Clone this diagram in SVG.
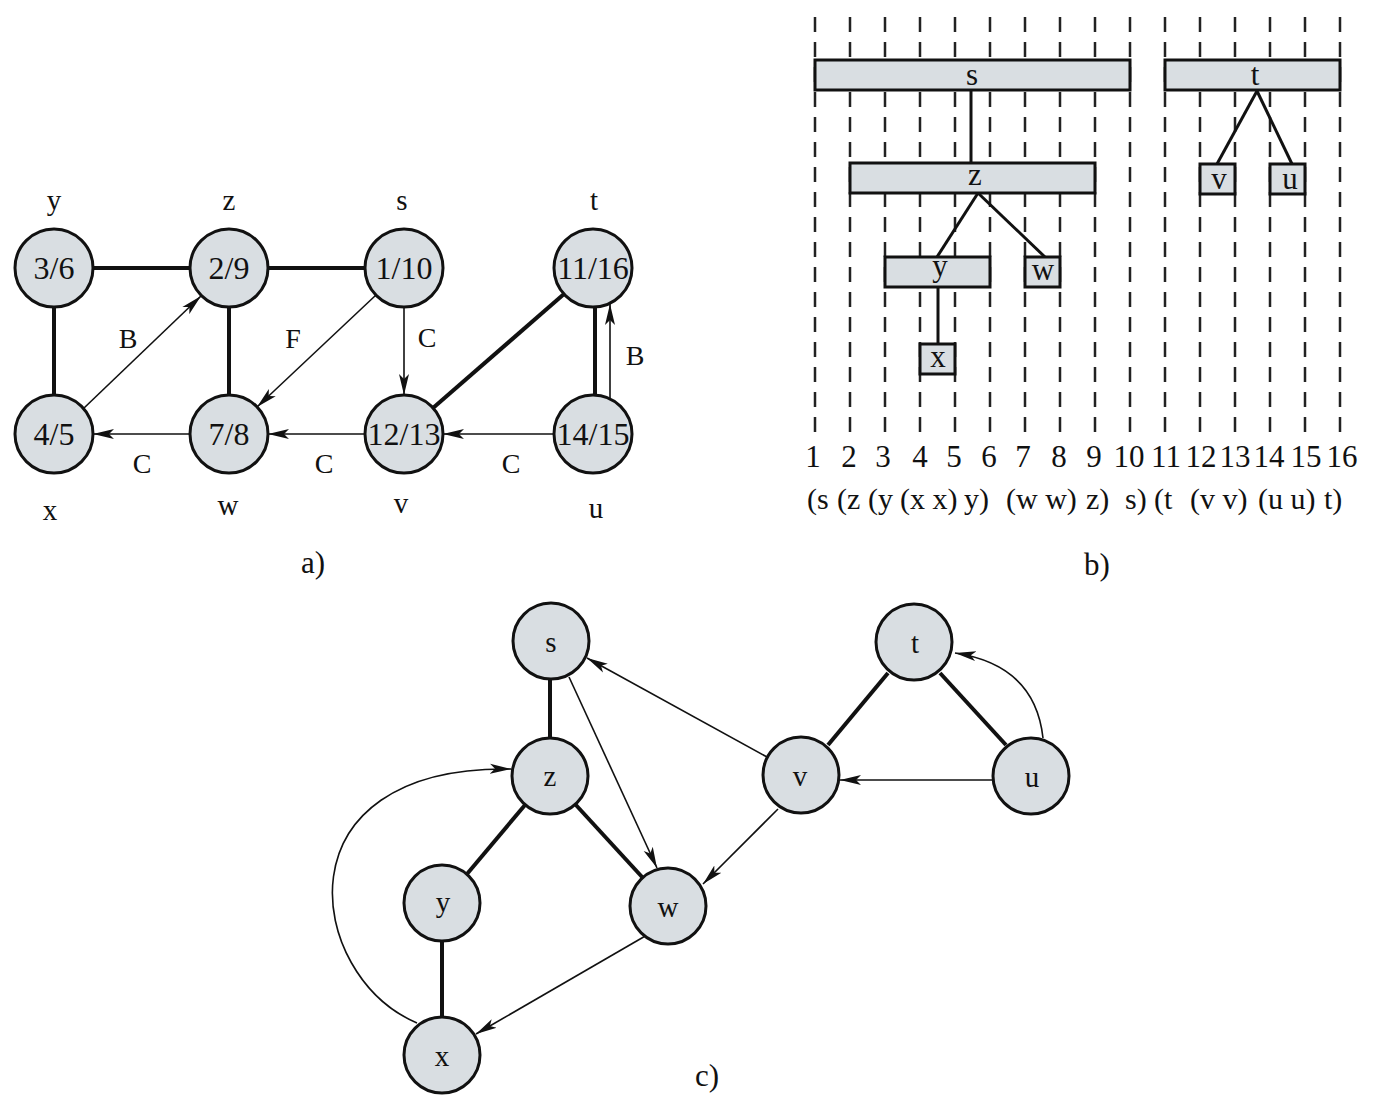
<svg xmlns="http://www.w3.org/2000/svg" width="1381" height="1095" viewBox="0 0 1381 1095">
<style>
text{font-family:"Liberation Serif","Times New Roman",serif;fill:#111;text-anchor:middle}
.n circle{fill:#d9dee2;stroke:#111;stroke-width:3}
.n text{font-size:32px}
.n text.lbl{font-size:29px}
.el{font-size:28px}
.thick{stroke:#111;stroke-width:4;fill:none}
.thin{stroke:#111;stroke-width:1.6;fill:none}
.arr{marker-end:url(#ah)}
.dash{stroke:#222;stroke-width:2.5;stroke-dasharray:15 10}
.bar rect{fill:#d9dee2;stroke:#111;stroke-width:3}
.bar text{font-size:31px}
.tl{font-size:31px}
.pr{font-size:30px;text-anchor:start}
.tree{stroke:#111;stroke-width:3;fill:none}
</style>
<defs>
<marker id="ah" viewBox="0 -6 22 12" refX="21" refY="0" markerWidth="22" markerHeight="12" markerUnits="userSpaceOnUse" orient="auto">
<path d="M0,-5 L21,0 L0,5 L5,0 z" fill="#111"/>
</marker>
</defs>
<rect width="1381" height="1095" fill="#fff"/>

<!-- ===== Part a ===== -->
<g id="a-connectors">
<path class="thick" d="M93,268 L190,268"/>
<path class="thick" d="M268,268 L365,268"/>
<path class="thick" d="M54,307 L54,395"/>
<path class="thick" d="M229,307 L229,395"/>
<path class="thin arr" d="M84,408 L201,296"/>
<path class="thin arr" d="M376,295 L257,407"/>
<path class="thin arr" d="M404,307 L404,395"/>
<path class="thick" d="M433,408 L564,294"/>
<path class="thick" d="M595,307 L595,395"/>
<path class="thin arr" d="M610,399 L610,304"/>
<path class="thin arr" d="M554,434 L443,434"/>
<path class="thin arr" d="M365,434 L268,434"/>
<path class="thin arr" d="M190,434 L93,434"/>
<text class="el" x="128" y="348">B</text>
<text class="el" x="293" y="348">F</text>
<text class="el" x="427" y="347">C</text>
<text class="el" x="635" y="365">B</text>
<text class="el" x="142" y="473">C</text>
<text class="el" x="324" y="473">C</text>
<text class="el" x="511" y="473">C</text>
</g>
<g id="a-y" class="n"><circle cx="54" cy="268" r="39"/><text x="54" y="279">3/6</text><text class="lbl" x="54" y="210">y</text></g>
<g id="a-z" class="n"><circle cx="229" cy="268" r="39"/><text x="229" y="279">2/9</text><text class="lbl" x="229" y="210">z</text></g>
<g id="a-s" class="n"><circle cx="404" cy="268" r="39"/><text x="404" y="279">1/10</text><text class="lbl" x="402" y="210">s</text></g>
<g id="a-t" class="n"><circle cx="593" cy="268" r="39"/><text x="593" y="279">11/16</text><text class="lbl" x="594" y="210">t</text></g>
<g id="a-x" class="n"><circle cx="54" cy="434" r="39"/><text x="54" y="445">4/5</text><text class="lbl" x="50" y="520">x</text></g>
<g id="a-w" class="n"><circle cx="229" cy="434" r="39"/><text x="229" y="445">7/8</text><text class="lbl" x="228" y="515">w</text></g>
<g id="a-v" class="n"><circle cx="404" cy="434" r="39"/><text x="404" y="445">12/13</text><text class="lbl" x="401" y="513">v</text></g>
<g id="a-u" class="n"><circle cx="593" cy="434" r="39"/><text x="593" y="445">14/15</text><text class="lbl" x="596" y="518">u</text></g>
<text class="tl" x="313" y="573">a)</text>

<!-- ===== Part b ===== -->
<g id="b-grid">
<line class="dash" x1="815" y1="17" x2="815" y2="432"/>
<line class="dash" x1="850" y1="17" x2="850" y2="432"/>
<line class="dash" x1="885" y1="17" x2="885" y2="432"/>
<line class="dash" x1="920" y1="17" x2="920" y2="432"/>
<line class="dash" x1="955" y1="17" x2="955" y2="432"/>
<line class="dash" x1="990" y1="17" x2="990" y2="432"/>
<line class="dash" x1="1025" y1="17" x2="1025" y2="432"/>
<line class="dash" x1="1060" y1="17" x2="1060" y2="432"/>
<line class="dash" x1="1095" y1="17" x2="1095" y2="432"/>
<line class="dash" x1="1130" y1="17" x2="1130" y2="432"/>
<line class="dash" x1="1165" y1="17" x2="1165" y2="432"/>
<line class="dash" x1="1200" y1="17" x2="1200" y2="432"/>
<line class="dash" x1="1235" y1="17" x2="1235" y2="432"/>
<line class="dash" x1="1270" y1="17" x2="1270" y2="432"/>
<line class="dash" x1="1305" y1="17" x2="1305" y2="432"/>
<line class="dash" x1="1340" y1="17" x2="1340" y2="432"/>
</g>
<g id="b-connectors">
<path class="tree" d="M971,90 L971,163"/>
<path class="tree" d="M978,193 L937,257"/>
<path class="tree" d="M978,193 L1045,257"/>
<path class="tree" d="M938,287 L938,344"/>
<path class="tree" d="M1257,91 L1217,164"/>
<path class="tree" d="M1257,91 L1292,164"/>
</g>
<g id="b-s" class="bar"><rect x="815" y="60" width="315" height="30"/><text x="972" y="85">s</text></g>
<g id="b-t" class="bar"><rect x="1165" y="60" width="175" height="30"/><text x="1255" y="85">t</text></g>
<g id="b-z" class="bar"><rect x="850" y="163" width="245" height="30"/><text x="975" y="185">z</text></g>
<g id="b-v" class="bar"><rect x="1200" y="164" width="35" height="30"/><text x="1219" y="189">v</text></g>
<g id="b-u" class="bar"><rect x="1270" y="164" width="35" height="30"/><text x="1290" y="189">u</text></g>
<g id="b-y" class="bar"><rect x="885" y="257" width="105" height="30"/><text x="940" y="276">y</text></g>
<g id="b-w" class="bar"><rect x="1025" y="257" width="35" height="30"/><text x="1043" y="280">w</text></g>
<g id="b-x" class="bar"><rect x="920" y="344" width="35" height="30"/><text x="938" y="367">x</text></g>
<g id="b-numbers" class="tl">
<text x="813" y="467">1</text><text x="849" y="467">2</text><text x="883" y="467">3</text><text x="920" y="467">4</text>
<text x="954" y="467">5</text><text x="989" y="467">6</text><text x="1023" y="467">7</text><text x="1059" y="467">8</text>
<text x="1094" y="467">9</text><text x="1129" y="467">10</text><text x="1166" y="467">11</text><text x="1201" y="467">12</text>
<text x="1235" y="467">13</text><text x="1269" y="467">14</text><text x="1306" y="467">15</text><text x="1342" y="467">16</text>
</g>
<g id="b-parens">
<text class="pr" x="807" y="509">(s</text>
<text class="pr" x="837" y="509">(z</text>
<text class="pr" x="868" y="509">(y</text>
<text class="pr" x="900" y="509">(x x)</text>
<text class="pr" x="964" y="509">y)</text>
<text class="pr" x="1006" y="509">(w w)</text>
<text class="pr" x="1086" y="509">z)</text>
<text class="pr" x="1125" y="509">s)</text>
<text class="pr" x="1154" y="509">(t</text>
<text class="pr" x="1190" y="509">(v v)</text>
<text class="pr" x="1258" y="509">(u u)</text>
<text class="pr" x="1324" y="509">t)</text>
</g>
<text class="tl" x="1097" y="575">b)</text>

<!-- ===== Part c ===== -->
<g id="c-connectors">
<path class="thick" d="M550,679 L550,738"/>
<path class="thin arr" d="M569,677 L657,868"/>
<path class="thick" d="M525,805 L467,874"/>
<path class="thick" d="M575,804 L643,878"/>
<path class="thick" d="M442,941 L442,1017"/>
<path class="thin arr" d="M647,935 L476,1034"/>
<path class="thin arr" d="M417,1023 C305,975 275,765 511,769"/>
<path class="thin arr" d="M767,757 L587,658"/>
<path class="thin arr" d="M778,809 L703,884"/>
<path class="thick" d="M828,745 L888,673"/>
<path class="thick" d="M940,673 L1006,745"/>
<path class="thin arr" d="M993,780 L840,780"/>
<path class="thin arr" d="M1043,738 Q1035,665 955,653"/>
</g>
<g id="c-s" class="n"><circle cx="551" cy="641" r="38"/><text class="lbl" x="551" y="652">s</text></g>
<g id="c-z" class="n"><circle cx="550" cy="776" r="38"/><text class="lbl" x="550" y="786">z</text></g>
<g id="c-y" class="n"><circle cx="442" cy="903" r="38"/><text class="lbl" x="443" y="912">y</text></g>
<g id="c-w" class="n"><circle cx="668" cy="906" r="38"/><text class="lbl" x="668" y="917">w</text></g>
<g id="c-x" class="n"><circle cx="442" cy="1055" r="38"/><text class="lbl" x="442" y="1066">x</text></g>
<g id="c-t" class="n"><circle cx="914" cy="642" r="38"/><text class="lbl" x="915" y="653">t</text></g>
<g id="c-v" class="n"><circle cx="801" cy="775" r="38"/><text class="lbl" x="800" y="786">v</text></g>
<g id="c-u" class="n"><circle cx="1031" cy="776" r="38"/><text class="lbl" x="1032" y="787">u</text></g>
<text class="tl" x="707" y="1086">c)</text>
</svg>
